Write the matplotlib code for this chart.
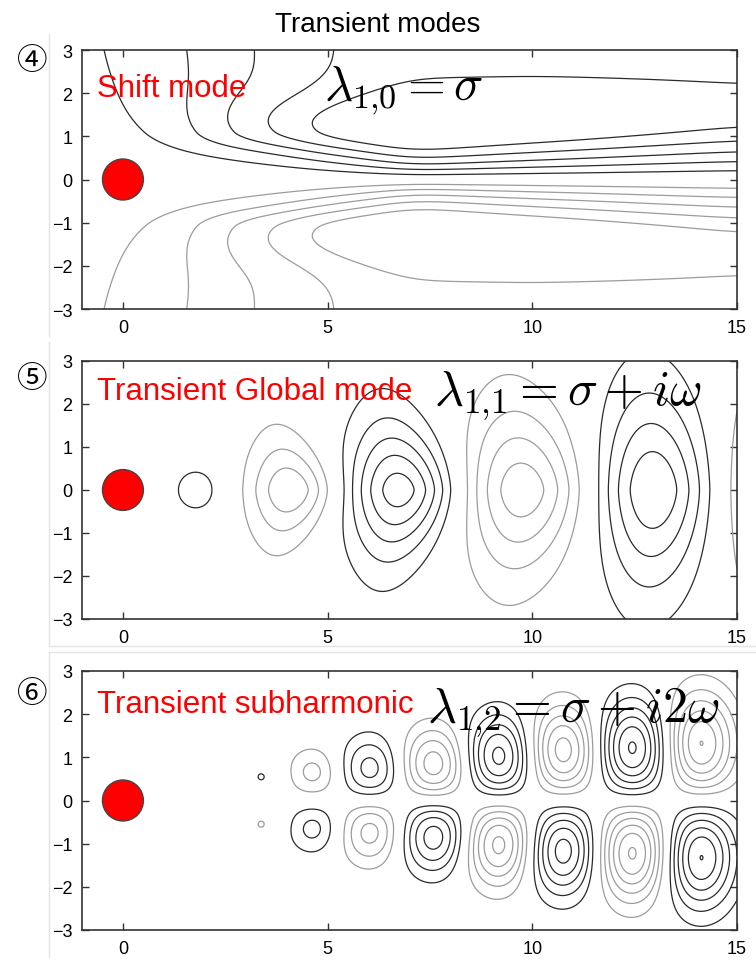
import numpy as np
import matplotlib
matplotlib.use('Agg')
import matplotlib.pyplot as plt
from matplotlib.patches import Ellipse
from matplotlib.lines import Line2D

plt.rcParams['font.family'] = ['Liberation Sans', 'DejaVu Sans']
plt.rcParams['mathtext.fontset'] = 'cm'

# ---- values ----
title = 'Transient modes'
panel_tags = ['④', '⑤', '⑥']
mode_names = ['Shift mode', 'Transient Global mode', 'Transient subharmonic']
eigen_labels = [r'$\lambda_{1{,}0} = \sigma$',
                r'$\lambda_{1{,}1} = \sigma + i\omega$',
                r'$\lambda_{1{,}2} = \sigma + i2\omega$']
xticks = [0, 5, 10, 15]
yticks = [-3, -2, -1, 0, 1, 2, 3]

# shift mode: outer value P(x), layer thickness delta(x), and a ridge near y~1.3
shift_px = [-1, -0.45, 1.6, 3.1, 5, 7, 10, 15]
shift_pv = [0.8, 1.12, 2.08, 3.0, 4.0, 4.5, 4.5, 4.5]
shift_dx = [-1, 1, 3, 5, 7, 11, 15]
shift_dv = [2.2, 1.7, 1.35, 0.95, 0.55, 0.75, 1.0]
ridge_cx = [-1, 1, 3, 5, 7, 10, 15]
ridge_amp = [0.0, 0.15, 1.4, 2.0, 2.2, 2.0, 1.35]
ridge_cy = [1.1, 1.1, 1.1, 1.1, 1.25, 1.4, 1.5]
ridge_wb = [0.45, 0.45, 0.45, 0.55, 0.8, 0.8, 0.8]   # width below the ridge
ridge_wa = [1.0, 1.0, 0.9, 0.8, 0.9, 0.85, 0.8]      # width above the ridge
shift_levels = [1, 2, 3, 4, 5]

# transient global mode: vortex blobs on the centreline
glob_x = [1.8, 4.08, 6.75, 9.75, 12.95, 16.3]
glob_a = [1.5, -3.9, 5.6, -4.7, 4.95, -4.8]
glob_sx = [0.7, 1.03, 1.25, 1.42, 1.33, 1.4]
glob_sy = [0.67, 1.2, 1.6, 2.0, 2.4, 2.6]
glob_tilt = [0.0, 0.35, 0.3, 0.2, 0.1, 0.1]
glob_py = [2.0, 1.6, 1.6, 1.6, 1.6, 1.6]
glob_levels = [1, 2, 3, 4, 5]

# transient subharmonic: upper row (lower row is its mirror with opposite sign)
sub_x = [3.41, 4.66, 6.05, 7.6, 9.2, 10.75, 12.45, 14.1]
sub_y = [0.55, 0.65, 0.7, 0.8, 1.0, 1.15, 1.2, 1.3]
sub_a = [1.08, -2.4, 3.6, -4.8, 5.6, -5.7, 6.4, -6.2]
sub_sx = [0.5, 0.65, 0.75, 0.8, 0.82, 0.85, 0.85, 0.85]
sub_sy = [0.43, 0.6, 0.8, 0.9, 1.0, 1.05, 1.12, 1.2]
sub_levels = [1, 2, 3, 4, 5, 6]

pos_color = '#2a2a2a'
neg_color = '#9c9c9c'


def blob(X, Y, x0, y0, a, sx, sy, tilt=0.0, py=2.0):
    u = (X - x0) / sx
    s = sy * (1 - tilt * np.tanh(u))
    return a * np.exp(-u ** 2 - np.abs((Y - y0) / s) ** py)


def smooth_profile(xg, xc, vc, width):
    v = np.interp(xg, xc, vc)
    dx = xg[1] - xg[0]
    n = int(3 * width / dx)
    k = np.exp(-0.5 * (np.arange(-n, n + 1) * dx / width) ** 2)
    k /= k.sum()
    return np.convolve(np.pad(v, n, mode='edge'), k, mode='valid')


def ridge(Y, c, wb, wa):
    w = np.where(Y < c, wb, wa)
    return np.exp(-((Y - c) / w) ** 2)


x = np.linspace(-1, 15, 801)
y = np.linspace(-3, 3, 361)
X, Y = np.meshgrid(x, y)

# field 1 (antisymmetric in y)
P = smooth_profile(x, shift_px, shift_pv, 0.5)[None, :]
D = smooth_profile(x, shift_dx, shift_dv, 0.6)[None, :]
RA = smooth_profile(x, ridge_cx, ridge_amp, 0.6)[None, :]
RC = smooth_profile(x, ridge_cx, ridge_cy, 0.6)[None, :]
WB = smooth_profile(x, ridge_cx, ridge_wb, 0.6)[None, :]
WA = smooth_profile(x, ridge_cx, ridge_wa, 0.6)[None, :]
F1 = P * np.tanh(Y / D) + RA * (ridge(Y, RC, WB, WA) - ridge(-Y, RC, WB, WA))

# field 2
F2 = np.zeros_like(X)
for i in range(len(glob_x)):
    F2 += blob(X, Y, glob_x[i], 0.0, glob_a[i], glob_sx[i], glob_sy[i],
               glob_tilt[i], glob_py[i])

# field 3
F3 = np.zeros_like(X)
for i in range(len(sub_x)):
    F3 += blob(X, Y, sub_x[i], sub_y[i], sub_a[i], sub_sx[i], sub_sy[i])
    F3 -= blob(X, -Y, sub_x[i], sub_y[i], sub_a[i], sub_sx[i], sub_sy[i])

fields = [F1, F2, F3]
levels = [shift_levels, glob_levels, sub_levels]

W, H = 756, 962
fig = plt.figure(figsize=(W / 100, H / 100), dpi=100)

# axes boxes in pixels: left, top, right, bottom
boxes = [(82, 51, 737, 310), (82, 362, 737, 620), (82, 672, 737, 931)]
name_y = [1.93, 2.12, 2.05]
eig_x = [4.9, 7.6, 7.42]
eig_y = [1.86, 2.0, 1.84]
eig_size = [35, 36, 36]
tag_y = [62, 380, 695]

for i in range(3):
    l, t, r, b = boxes[i]
    ax = fig.add_axes([l / W, 1 - b / H, (r - l) / W, (b - t) / H])
    lv = np.array(levels[i], dtype=float)
    ax.contour(X, Y, fields[i], levels=-lv[::-1], colors=neg_color,
               linewidths=0.9, linestyles='solid')
    ax.contour(X, Y, fields[i], levels=lv, colors=pos_color,
               linewidths=0.9, linestyles='solid')
    ax.add_patch(Ellipse((0, 0), 1.0, 0.95, facecolor='#ff0000',
                         edgecolor='#444444', lw=1.0, zorder=5))
    ax.set_xlim(-1, 15)
    ax.set_ylim(-3, 3)
    ax.set_xticks(xticks)
    ax.set_yticks(yticks)
    ax.tick_params(direction='in', top=True, right=True, length=5, width=1,
                   color='#333333', labelsize=13, pad=7)
    for sp in ax.spines.values():
        sp.set_color('#333333')
        sp.set_linewidth(1.2)
    ax.text(-0.63, name_y[i], mode_names[i], color='#ff0000', fontsize=22.5,
            ha='left', va='baseline', zorder=6)
    ax.text(eig_x[i], eig_y[i], eigen_labels[i], fontsize=eig_size[i],
            ha='left', va='baseline', zorder=6)
    fig.text(32 / W, 1 - tag_y[i] / H, panel_tags[i], fontsize=22,
             ha='center', va='center', family=['Noto Sans CJK JP', 'DejaVu Sans'])

fig.text(0.5, 1 - 32 / H, title, ha='center', va='baseline', fontsize=20)

# faint borders of the stitched sub-pictures
faint = '#e4e4e4'
for y0, y1 in [(35, 337), (343, 647), (653, 958)]:
    fig.add_artist(Line2D([49 / W, 49 / W], [1 - y0 / H, 1 - y1 / H], color=faint, lw=1))
for yy in [647, 653]:
    fig.add_artist(Line2D([49 / W, 1], [1 - yy / H, 1 - yy / H], color=faint, lw=1))

fig.savefig('out.png', dpi=100)
